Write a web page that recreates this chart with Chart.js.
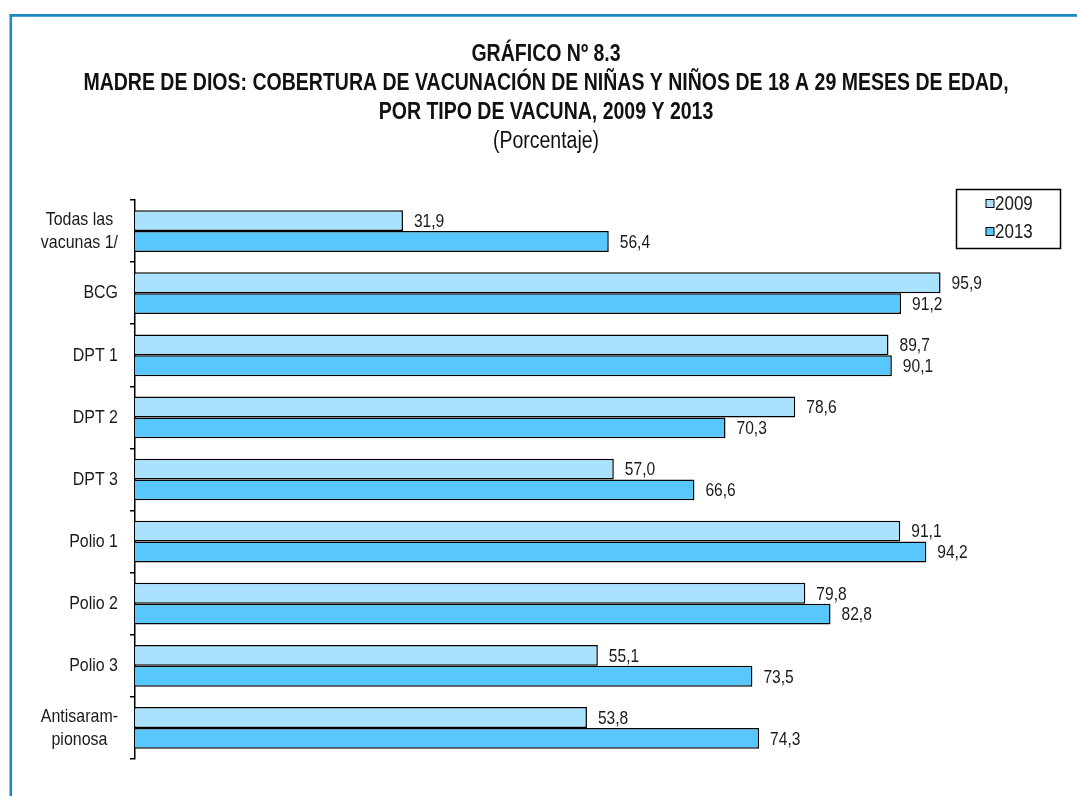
<!DOCTYPE html>
<html>
<head>
<meta charset="utf-8">
<script src="https://cdn.jsdelivr.net/npm/chart.js@4"></script>
<style>
  body { margin: 0; background: #fff; }
  #wrap { width: 1077px; height: 796px; }
</style>
</head>
<body>
<div id="wrap"><canvas id="chart" width="1077" height="796"></canvas></div>
<script>
const FONT = "'Liberation Sans', Arial, sans-serif";

const categories = [
    ['Todas las', 'vacunas 1/'], 'BCG', 'DPT 1', 'DPT 2', 'DPT 3',
    'Polio 1', 'Polio 2', 'Polio 3', ['Antisaram-', 'pionosa']
];
const values2009 = [31.9, 95.9, 89.7, 78.6, 57.0, 91.1, 79.8, 55.1, 53.8];
const values2013 = [56.4, 91.2, 90.1, 70.3, 66.6, 94.2, 82.8, 73.5, 74.3];
const seriesNames = ['2009', '2013'];
const titleLines = [
    'GRÁFICO Nº 8.3',
    'MADRE DE DIOS: COBERTURA DE VACUNACIÓN DE NIÑAS Y NIÑOS DE 18 A 29 MESES DE EDAD,',
    'POR TIPO DE VACUNA, 2009 Y 2013'
];
const subtitleText = '(Porcentaje)';

// no narrow font installed, so squeeze the text horizontally
function narrowText(ctx, text, x, y, align, squeeze) {
    ctx.save();
    ctx.translate(x, y);
    ctx.scale(squeeze, 1);
    ctx.textAlign = align;
    ctx.fillText(text, 0, 0);
    ctx.restore();
}

// blue frame around the figure
const framePlugin = {
    id: 'frame',
    beforeDraw(chart) {
        const ctx = chart.ctx;
        ctx.save();
        ctx.fillStyle = '#fff';
        ctx.fillRect(0, 0, chart.width, chart.height);
        ctx.fillStyle = '#1a8bc6';
        ctx.fillRect(9.5, 14, chart.width, 2.8);
        ctx.fillRect(9.5, 14, 2.6, chart.height);
        ctx.restore();
    }
};

// title block
const titlePlugin = {
    id: 'titleBlock',
    afterDraw(chart) {
        const ctx = chart.ctx;
        const cx = 546;
        ctx.save();
        ctx.fillStyle = '#111';
        ctx.textBaseline = 'middle';
        ctx.font = 'bold 23.5px ' + FONT;
        titleLines.forEach((t, i) => narrowText(ctx, t, cx, 54.5 + i * 29, 'center', 0.83));
        ctx.font = '23.5px ' + FONT;
        narrowText(ctx, subtitleText, cx, 142, 'center', 0.83);
        ctx.restore();
    }
};

// category labels: right aligned block, lines centred inside it
const catLabelPlugin = {
    id: 'catLabels',
    afterDraw(chart) {
        const ctx = chart.ctx;
        const scale = chart.scales.y;
        const sq = 0.84;
        ctx.save();
        ctx.font = '19px ' + FONT;
        ctx.fillStyle = '#1a1a1a';
        ctx.textBaseline = 'middle';
        const rightEdge = 118;
        const lineH = 23;
        categories.forEach((lab, i) => {
            const lines = Array.isArray(lab) ? lab : [lab];
            const w = Math.max(...lines.map(l => ctx.measureText(l).width)) * sq;
            const cx = rightEdge - w / 2;
            const cy = scale.getPixelForTick(i);
            const y0 = cy - (lines.length - 1) * lineH / 2;
            lines.forEach((l, k) => narrowText(ctx, l, cx, y0 + k * lineH, 'center', sq));
        });
        ctx.restore();
    }
};

// value labels at the end of each bar
const valueLabelPlugin = {
    id: 'valueLabels',
    afterDatasetsDraw(chart) {
        const ctx = chart.ctx;
        ctx.save();
        ctx.font = '19px ' + FONT;
        ctx.fillStyle = '#1a1a1a';
        ctx.textBaseline = 'middle';
        chart.data.datasets.forEach((ds, di) => {
            const meta = chart.getDatasetMeta(di);
            meta.data.forEach((bar, i) => {
                const txt = ds.data[i].toFixed(1).replace('.', ',');
                narrowText(ctx, txt, bar.x + 11, bar.y + 1, 'left', 0.82);
            });
        });
        ctx.restore();
    }
};

// boxed legend, top right
const boxLegendPlugin = {
    id: 'boxLegend',
    afterDraw(chart) {
        const ctx = chart.ctx;
        ctx.save();
        ctx.strokeStyle = '#000';
        ctx.lineWidth = 1.5;
        ctx.strokeRect(956.5, 189.5, 104, 59);
        ctx.font = '20px ' + FONT;
        ctx.textBaseline = 'middle';
        chart.data.datasets.forEach((ds, i) => {
            const cy = 203.5 + i * 28;
            ctx.fillStyle = ds.backgroundColor;
            ctx.fillRect(986, cy - 4, 8, 8);
            ctx.lineWidth = 1;
            ctx.strokeStyle = '#000';
            ctx.strokeRect(986, cy - 4, 8, 8);
            ctx.fillStyle = '#1a1a1a';
            narrowText(ctx, ds.label, 995, cy + 1, 'left', 0.85);
        });
        ctx.restore();
    }
};

new Chart(document.getElementById('chart'), {
    type: 'bar',
    data: {
        labels: categories,
        datasets: [
            {
                label: seriesNames[0],
                data: values2009,
                backgroundColor: '#a9e2ff',
                borderColor: '#000',
                borderWidth: 1.5
            },
            {
                label: seriesNames[1],
                data: values2013,
                backgroundColor: '#57c7fd',
                borderColor: '#000',
                borderWidth: 1.5
            }
        ]
    },
    options: {
        indexAxis: 'y',
        responsive: false,
        animation: false,
        layout: { padding: { left: 37, right: 18, top: 200, bottom: 37 } },
        datasets: {
            bar: { categoryPercentage: 0.672, barPercentage: 1 }
        },
        plugins: {
            legend: { display: false },
            tooltip: { enabled: false },
            title: { display: false }
        },
        scales: {
            x: {
                display: false,
                min: 0,
                max: 110
            },
            y: {
                afterFit(scale) { scale.width = 98; },
                ticks: { display: false },
                grid: {
                    offset: true,
                    drawOnChartArea: false,
                    drawTicks: true,
                    tickLength: 5,
                    color: '#000',
                    lineWidth: 1.5
                },
                border: { display: true, color: '#000', width: 1.5 }
            }
        }
    },
    plugins: [framePlugin, titlePlugin, catLabelPlugin, valueLabelPlugin, boxLegendPlugin]
});
</script>
</body>
</html>
